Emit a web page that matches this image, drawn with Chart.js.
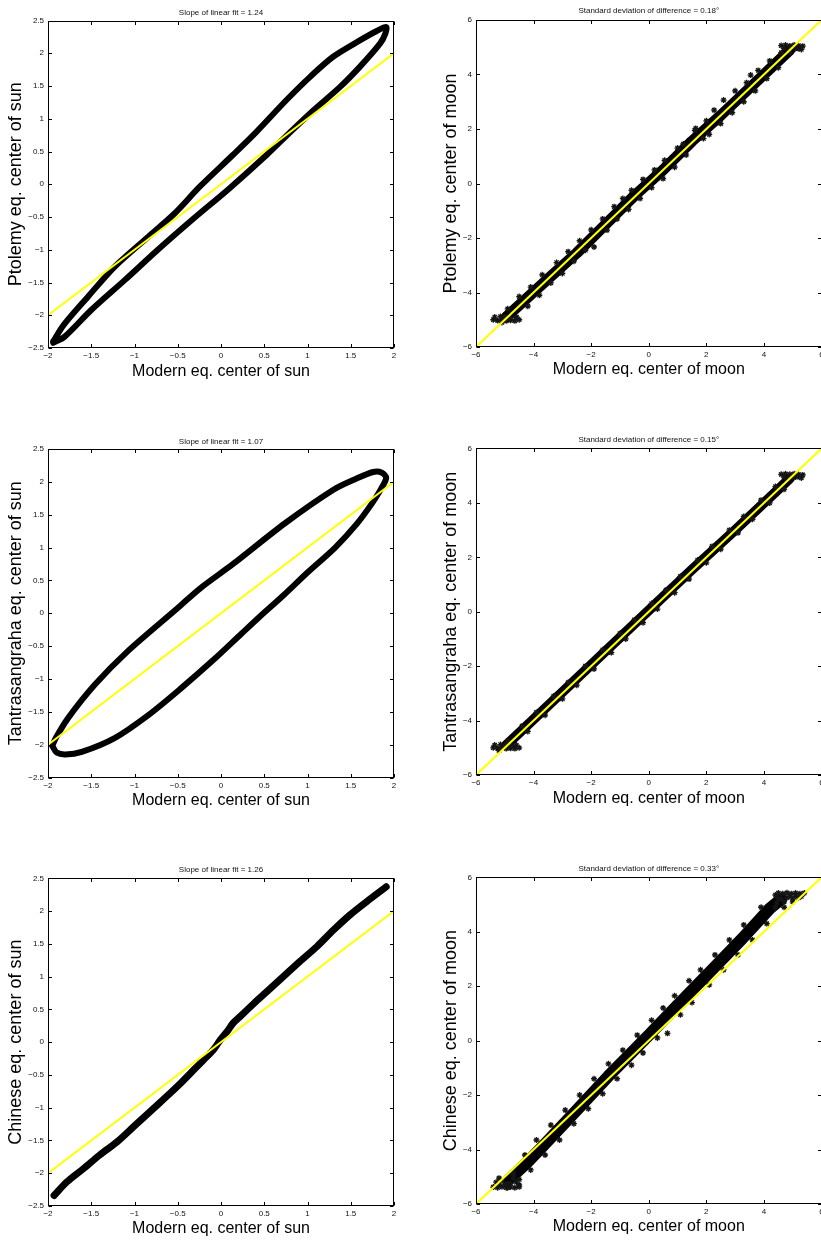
<!DOCTYPE html>
<html lang="en">
<head>
<meta charset="UTF-8">
<title>Equation of center: historical models vs modern</title>
<script src="https://cdn.jsdelivr.net/npm/chart.js"></script>
<style>
  body { margin: 0; background: #fff; width: 821px; height: 1241px; overflow: hidden; position: relative; }
  canvas { position: absolute; }
</style>
</head>
<body>
<canvas id="p1"></canvas>
<canvas id="p2"></canvas>
<canvas id="p3"></canvas>
<canvas id="p4"></canvas>
<canvas id="p5"></canvas>
<canvas id="p6"></canvas>
<script>
// ---- tick values ----
const sunXTicks = [-2, -1.5, -1, -0.5, 0, 0.5, 1, 1.5, 2];
const sunYTicks = [-2.5, -2, -1.5, -1, -0.5, 0, 0.5, 1, 1.5, 2, 2.5];
const moonTicks = [-6, -4, -2, 0, 2, 4, 6];

// ---- texts ----
const panelTitles = [
  'Slope of linear fit = 1.24',
  'Standard deviation of difference = 0.18°',
  'Slope of linear fit = 1.07',
  'Standard deviation of difference = 0.15°',
  'Slope of linear fit = 1.26',
  'Standard deviation of difference = 0.33°'
];
const xLabels = ['Modern eq. center of sun', 'Modern eq. center of moon'];
const yLabels = [
  'Ptolemy eq. center of sun', 'Ptolemy eq. center of moon',
  'Tantrasangraha eq. center of sun', 'Tantrasangraha eq. center of moon',
  'Chinese eq. center of sun', 'Chinese eq. center of moon'
];

// ---- reference line y = x ----
const sunLineX = [-2, 2];
const sunLineY = [-2, 2];
const moonLineX = [-6, 6];
const moonLineY = [-6, 6];

// ---- Ptolemy, sun (loop) ----
const ptolemySunX = [-1.94, -1.82, -1.54, -1.23, -0.84, -0.54, -0.24, 0.14, 0.41, 0.76, 1.03, 1.30, 1.61, 1.80, 1.91,
  1.90, 1.84, 1.61, 1.38, 1.07, 0.78, 0.53, 0.10, -0.34, -0.73, -1.11, -1.50, -1.81, -1.94];
const ptolemySunY = [-2.40, -2.15, -1.72, -1.26, -0.80, -0.45, -0.03, 0.45, 0.80, 1.29, 1.64, 1.95, 2.20, 2.34, 2.40,
  2.30, 2.15, 1.80, 1.49, 1.13, 0.77, 0.45, -0.06, -0.55, -1.00, -1.46, -1.92, -2.33, -2.42];

// ---- Tantrasangraha, sun (loop) ----
const tantraSunX = [-1.95, -1.91, -1.77, -1.46, -1.08, -0.50, -0.24, 0.14, 0.74, 1.30, 1.55, 1.76, 1.86, 1.91,
  1.84, 1.75, 1.57, 1.32, 1.00, 0.72, 0.45, 0.23, -0.07, -0.46, -0.84, -1.23, -1.61, -1.80, -1.90, -1.95];
const tantraSunY = [-2.02, -1.90, -1.60, -1.09, -0.58, 0.08, 0.38, 0.75, 1.37, 1.88, 2.04, 2.15, 2.14, 2.06,
  1.87, 1.68, 1.36, 1.00, 0.62, 0.27, -0.05, -0.32, -0.69, -1.14, -1.55, -1.90, -2.11, -2.15, -2.12, -2.02];

// ---- Chinese, sun ----
const chineseSunX = [-1.93, -1.78, -1.59, -1.40, -1.20, -1.01, -0.82, -0.63, -0.47, -0.32, -0.20, -0.09, -0.01,
  0.07, 0.14, 0.22, 0.38, 0.53, 0.72, 0.91, 1.11, 1.30, 1.49, 1.68, 1.91];
const chineseSunY = [-2.34, -2.13, -1.93, -1.72, -1.52, -1.29, -1.06, -0.83, -0.63, -0.43, -0.27, -0.12, 0.03,
  0.16, 0.29, 0.39, 0.59, 0.77, 1.00, 1.23, 1.46, 1.71, 1.94, 2.14, 2.37];

// ---- Ptolemy, moon ----
const ptolemyMoonX = [-4.95, -3.5, -2.5, -1.5, -0.5, 0.5, 1.5, 2.5, 3.5, 4.35, 4.9];
const ptolemyMoonY = [-4.9, -3.5, -2.55, -1.5, -0.45, 0.5, 1.55, 2.5, 3.5, 4.35, 4.9];
const ptolemyMoonStarX = [-5.1, -4.9, -4.6, -4.5, -4.2, -4.1, -3.8, -3.7, -3.4, -3.2, -3.0, -2.8, -2.6, -2.4, -2.2,
  -2.0, -1.9, -1.6, -1.45, -1.2, -1.1, -0.9, -0.7, -0.6, -0.3, -0.2, 0.1, 0.2, 0.5, 0.55, 0.9, 1.0, 1.2, 1.3, 1.6,
  1.63, 1.9, 2.0, 2.1, 2.27, 2.5, 2.6, 2.9, 3.0, 3.3, 3.4, 3.54, 3.7, 3.8, 4.1, 4.2, 4.5, 4.6, 4.9, 5.2,
  -5.4, -5.25, -5.1, -4.95, -4.8, -4.65, -4.5, -5.35, -5.15, -5.0, -4.8, -4.6,
  4.6, 4.75, 4.9, 5.05, 5.2, 5.35, 5.3, 5.1, 4.7, 4.9, 5.2];
const ptolemyMoonStarY = [-5.1, -4.6, -4.9, -4.15, -4.5, -3.8, -4.1, -3.35, -3.65, -2.9, -3.3, -2.5, -2.85, -2.1, -2.45,
  -1.7, -2.33, -1.3, -1.71, -0.85, -1.3, -0.55, -0.95, -0.25, -0.55, 0.15, -0.15, 0.5, 0.18, 0.85, 0.6, 1.3, 1.45, 1.05, 1.95,
  2.02, 1.65, 2.3, 1.8, 2.69, 2.2, 3.06, 2.6, 3.4, 3.0, 3.7, 3.98, 3.4, 4.15, 3.85, 4.5, 4.25, 4.8, 4.8, 4.95,
  -5.0, -5.03, -5.0, -5.04, -5.02, -5.04, -5.0, -4.9, -4.88, -4.9, -4.92, -4.9,
  5.06, 5.08, 5.05, 5.08, 5.06, 5.04, 4.92, 4.95, 4.95, 4.93, 4.97];

// ---- Tantrasangraha, moon ----
const tantraMoonX = [-4.95, -3.0, -1.5, 0.0, 1.5, 3.0, 4.4, 4.9];
const tantraMoonY = [-4.9, -2.95, -1.45, 0.05, 1.55, 3.0, 4.4, 4.9];
const tantraMoonStarX = [-5.2, -4.9, -4.7, -4.4, -4.2, -3.9, -3.6, -3.3, -3.0, -2.8, -2.5, -2.2, -1.9, -1.6, -1.3,
  -1.0, -0.8, -0.5, -0.2, 0.1, 0.3, 0.6, 0.9, 1.1, 1.4, 1.7, 2.0, 2.2, 2.5, 2.8, 3.1, 3.3, 3.6, 3.9, 4.2, 4.4, 4.7, 5.0,
  -5.4, -5.25, -5.1, -4.95, -4.8, -4.65, -4.5, -5.35, -5.15, -5.0, -4.8, -4.6,
  4.6, 4.75, 4.9, 5.05, 5.2, 5.35, 5.3, 5.1, 4.7, 4.9, 5.2];
const tantraMoonStarY = [-5.1, -4.75, -4.95, -4.2, -4.4, -3.7, -3.8, -3.1, -3.2, -2.6, -2.7, -2.0, -2.1, -1.4, -1.5,
  -0.8, -1.0, -0.3, -0.4, 0.3, 0.1, 0.8, 0.7, 1.3, 1.2, 1.9, 1.8, 2.4, 2.3, 3.0, 2.9, 3.5, 3.4, 4.1, 4.0, 4.6, 4.5, 4.95,
  -5.0, -5.02, -5.0, -5.03, -5.02, -5.03, -5.0, -4.9, -4.88, -4.9, -4.92, -4.9,
  5.05, 5.07, 5.05, 5.07, 5.05, 5.03, 4.92, 4.95, 4.95, 4.93, 4.97];

// ---- Chinese, moon ----
const chineseMoonX = [-4.85, -4.2, -3.7, -2.5, -1.4, 0.0, 0.95, 2.1, 3.25, 4.2, 4.6];
const chineseMoonY = [-5.1, -4.45, -3.9, -2.55, -1.3, 0.2, 1.25, 2.5, 3.75, 4.85, 5.2];
const chineseMoonStarX = [-5.2, -4.9, -4.7, -4.5, -4.3, -4.1, -3.9, -3.6, -3.4, -3.1, -2.9, -2.6, -2.4, -2.1, -1.9,
  -1.6, -1.4, -1.1, -0.9, -0.6, -0.4, -0.2, 0.1, 0.3, 0.5, 0.65, 0.9, 1.1, 1.4, 1.5, 1.8, 2.1, 2.3, 2.6, 2.8,
  3.1, 3.3, 3.6, 3.9, 4.1, 4.4, 4.7, 5.0,
  -5.4, -5.25, -5.1, -4.95, -4.8, -4.65, -4.5, -5.3, -5.1, -4.9,
  -5.2, -5.0, -4.8, -4.6, -4.7, -4.5,
  4.5, 4.65, 4.8, 4.95, 5.1, 5.25, 5.4, 4.6, 4.8, 5.0, 5.2, 4.45,
  4.5, 4.7, 4.9, 5.1, 5.3, 4.4];
const chineseMoonStarY = [-5.05, -5.4, -4.9, -5.3, -4.2, -4.75, -3.65, -4.2, -3.1, -3.65, -2.55, -3.05, -2.0, -2.5, -1.4,
  -1.95, -0.85, -1.4, -0.35, -0.9, 0.2, -0.45, 0.75, 0.1, 1.2, 0.27, 1.65, 0.95, 2.2, 1.4, 2.6, 2.05, 3.15, 2.6, 3.7,
  3.15, 4.25, 3.7, 4.9, 4.3, 5.35, 4.9, 5.1,
  -5.38, -5.4, -5.37, -5.4, -5.38, -5.4, -5.37, -5.2, -5.15, -5.25,
  -5.3, -5.3, -5.25, -5.2, -5.05, -5.1,
  5.42, 5.4, 5.43, 5.4, 5.42, 5.4, 5.42, 5.2, 5.25, 5.2, 5.25, 5.05,
  5.2, 5.1, 5.3, 5.3, 5.3, 4.9];

const FONT = "'Liberation Sans', Helvetica, Arial, sans-serif";

function xy(xs, ys) {
  return xs.map((x, i) => ({ x: x, y: ys[i] }));
}

function fmt(v) {
  return v < 0 ? '\u2212' + Math.abs(v) : String(v);
}

function refLine(xs, ys) {
  return { data: xy(xs, ys), showLine: true, borderColor: '#ffff00', borderWidth: 2, pointRadius: 0, order: 0 };
}

function band(xs, ys, w, tension) {
  return {
    data: xy(xs, ys), showLine: true, borderColor: '#000', borderWidth: w, pointRadius: 0,
    tension: tension, borderCapStyle: 'round', borderJoinStyle: 'round', order: 2
  };
}

function stars(xs, ys) {
  return {
    data: xy(xs, ys), showLine: false, pointStyle: 'star', pointRadius: 3,
    borderColor: '#151515', backgroundColor: '#151515', borderWidth: 1.3, order: 1
  };
}

// box with inward ticks on all four sides, like the original figure
const frame = {
  id: 'frame',
  afterDraw(chart) {
    const { ctx, chartArea: a, scales: { x, y } } = chart;
    const l = Math.round(a.left) + 0.5, r = Math.round(a.right) - 0.5;
    const t = Math.round(a.top) + 0.5, b = Math.round(a.bottom) - 0.5;
    const len = 3.5;
    ctx.save();
    ctx.strokeStyle = '#000';
    ctx.lineWidth = 1;
    ctx.strokeRect(l, t, r - l, b - t);
    ctx.beginPath();
    x.ticks.forEach(tk => {
      const px = Math.round(x.getPixelForValue(tk.value)) + 0.5;
      ctx.moveTo(px, b); ctx.lineTo(px, b - len);
      ctx.moveTo(px, t); ctx.lineTo(px, t + len);
    });
    y.ticks.forEach(tk => {
      const py = Math.round(y.getPixelForValue(tk.value)) + 0.5;
      ctx.moveTo(l, py); ctx.lineTo(l + len, py);
      ctx.moveTo(r, py); ctx.lineTo(r - len, py);
    });
    ctx.stroke();
    ctx.restore();
  }
};

function makePanel(p) {
  const canvas = document.getElementById(p.id);
  canvas.width = p.cw;
  canvas.height = p.ch;
  canvas.style.left = p.cx + 'px';
  canvas.style.top = p.cy + 'px';
  const yLeft = p.yc - 10.8;   // y title 18px, half line height
  const xBottom = p.xc + 9.6;  // x title 16px, half line height
  const tickFont = { family: FONT, size: 8 };
  return new Chart(canvas, {
    type: 'scatter',
    data: { datasets: p.datasets },
    options: {
      responsive: false,
      animation: false,
      devicePixelRatio: 1,
      layout: {
        padding: { left: yLeft - p.cx, right: p.cx + p.cw - p.R, top: 0, bottom: p.cy + p.ch - xBottom }
      },
      plugins: {
        legend: { display: false },
        tooltip: { enabled: false },
        title: {
          display: true, text: p.title, fullSize: false, color: '#111',
          font: { family: FONT, size: 8, weight: 'normal' },
          padding: { top: p.tc - 4.8 - p.cy, bottom: p.T - p.tc - 4.8 }
        }
      },
      scales: {
        x: {
          type: 'linear', min: p.xTicks[0], max: p.xTicks[p.xTicks.length - 1],
          afterBuildTicks: s => { s.ticks = p.xTicks.map(v => ({ value: v })); },
          afterFit: s => { s.height = xBottom - p.B; },
          grid: { display: false, drawTicks: false }, border: { display: false },
          ticks: { font: tickFont, color: '#111', padding: 3, autoSkip: false, maxRotation: 0, callback: fmt },
          title: { display: true, text: p.xLabel, color: '#000', font: { family: FONT, size: 16 }, padding: 0 }
        },
        y: {
          type: 'linear', min: p.yTicks[0], max: p.yTicks[p.yTicks.length - 1],
          afterBuildTicks: s => { s.ticks = p.yTicks.map(v => ({ value: v })); },
          afterFit: s => { s.width = p.L - yLeft; },
          grid: { display: false, drawTicks: false }, border: { display: false },
          ticks: { font: tickFont, color: '#111', padding: 4, autoSkip: false, callback: fmt },
          title: { display: true, text: p.yLabel, color: '#000', font: { family: FONT, size: 18 }, padding: 0 }
        }
      }
    },
    plugins: [frame]
  });
}

makePanel({
  id: 'p1', cx: 0, cy: 0, cw: 410, ch: 405, L: 48, R: 394, T: 20.5, B: 348, tc: 12.7, yc: 15.8, xc: 371.7,
  title: panelTitles[0], xLabel: xLabels[0], yLabel: yLabels[0], xTicks: sunXTicks, yTicks: sunYTicks,
  datasets: [refLine(sunLineX, sunLineY), band(ptolemySunX, ptolemySunY, 6, 0.3)]
});
makePanel({
  id: 'p2', cx: 410, cy: 0, cw: 420, ch: 405, L: 476, R: 821.5, T: 20, B: 347, tc: 10.7, yc: 451.2, xc: 370,
  title: panelTitles[1], xLabel: xLabels[1], yLabel: yLabels[1], xTicks: moonTicks, yTicks: moonTicks,
  datasets: [refLine(moonLineX, moonLineY), stars(ptolemyMoonStarX, ptolemyMoonStarY), band(ptolemyMoonX, ptolemyMoonY, 11, 0)]
});
makePanel({
  id: 'p3', cx: 0, cy: 415, cw: 410, ch: 405, L: 48, R: 394, T: 449, B: 777.5, tc: 441.3, yc: 15.8, xc: 800.5,
  title: panelTitles[2], xLabel: xLabels[0], yLabel: yLabels[2], xTicks: sunXTicks, yTicks: sunYTicks,
  datasets: [refLine(sunLineX, sunLineY), band(tantraSunX, tantraSunY, 6, 0.3)]
});
makePanel({
  id: 'p4', cx: 410, cy: 415, cw: 420, ch: 405, L: 476, R: 821.5, T: 448.5, B: 775, tc: 439.5, yc: 451.2, xc: 798.8,
  title: panelTitles[3], xLabel: xLabels[1], yLabel: yLabels[3], xTicks: moonTicks, yTicks: moonTicks,
  datasets: [refLine(moonLineX, moonLineY), stars(tantraMoonStarX, tantraMoonStarY), band(tantraMoonX, tantraMoonY, 10, 0)]
});
makePanel({
  id: 'p5', cx: 0, cy: 830, cw: 410, ch: 411, L: 48, R: 394, T: 878.3, B: 1206, tc: 870, yc: 15.8, xc: 1229,
  title: panelTitles[4], xLabel: xLabels[0], yLabel: yLabels[4], xTicks: sunXTicks, yTicks: sunYTicks,
  datasets: [refLine(sunLineX, sunLineY), band(chineseSunX, chineseSunY, 7, 0.3)]
});
makePanel({
  id: 'p6', cx: 410, cy: 830, cw: 420, ch: 411, L: 476, R: 821.5, T: 877.3, B: 1204, tc: 868.3, yc: 451.2, xc: 1227,
  title: panelTitles[5], xLabel: xLabels[1], yLabel: yLabels[5], xTicks: moonTicks, yTicks: moonTicks,
  datasets: [refLine(moonLineX, moonLineY), stars(chineseMoonStarX, chineseMoonStarY), band(chineseMoonX, chineseMoonY, 12, 0)]
});
</script>
</body>
</html>
